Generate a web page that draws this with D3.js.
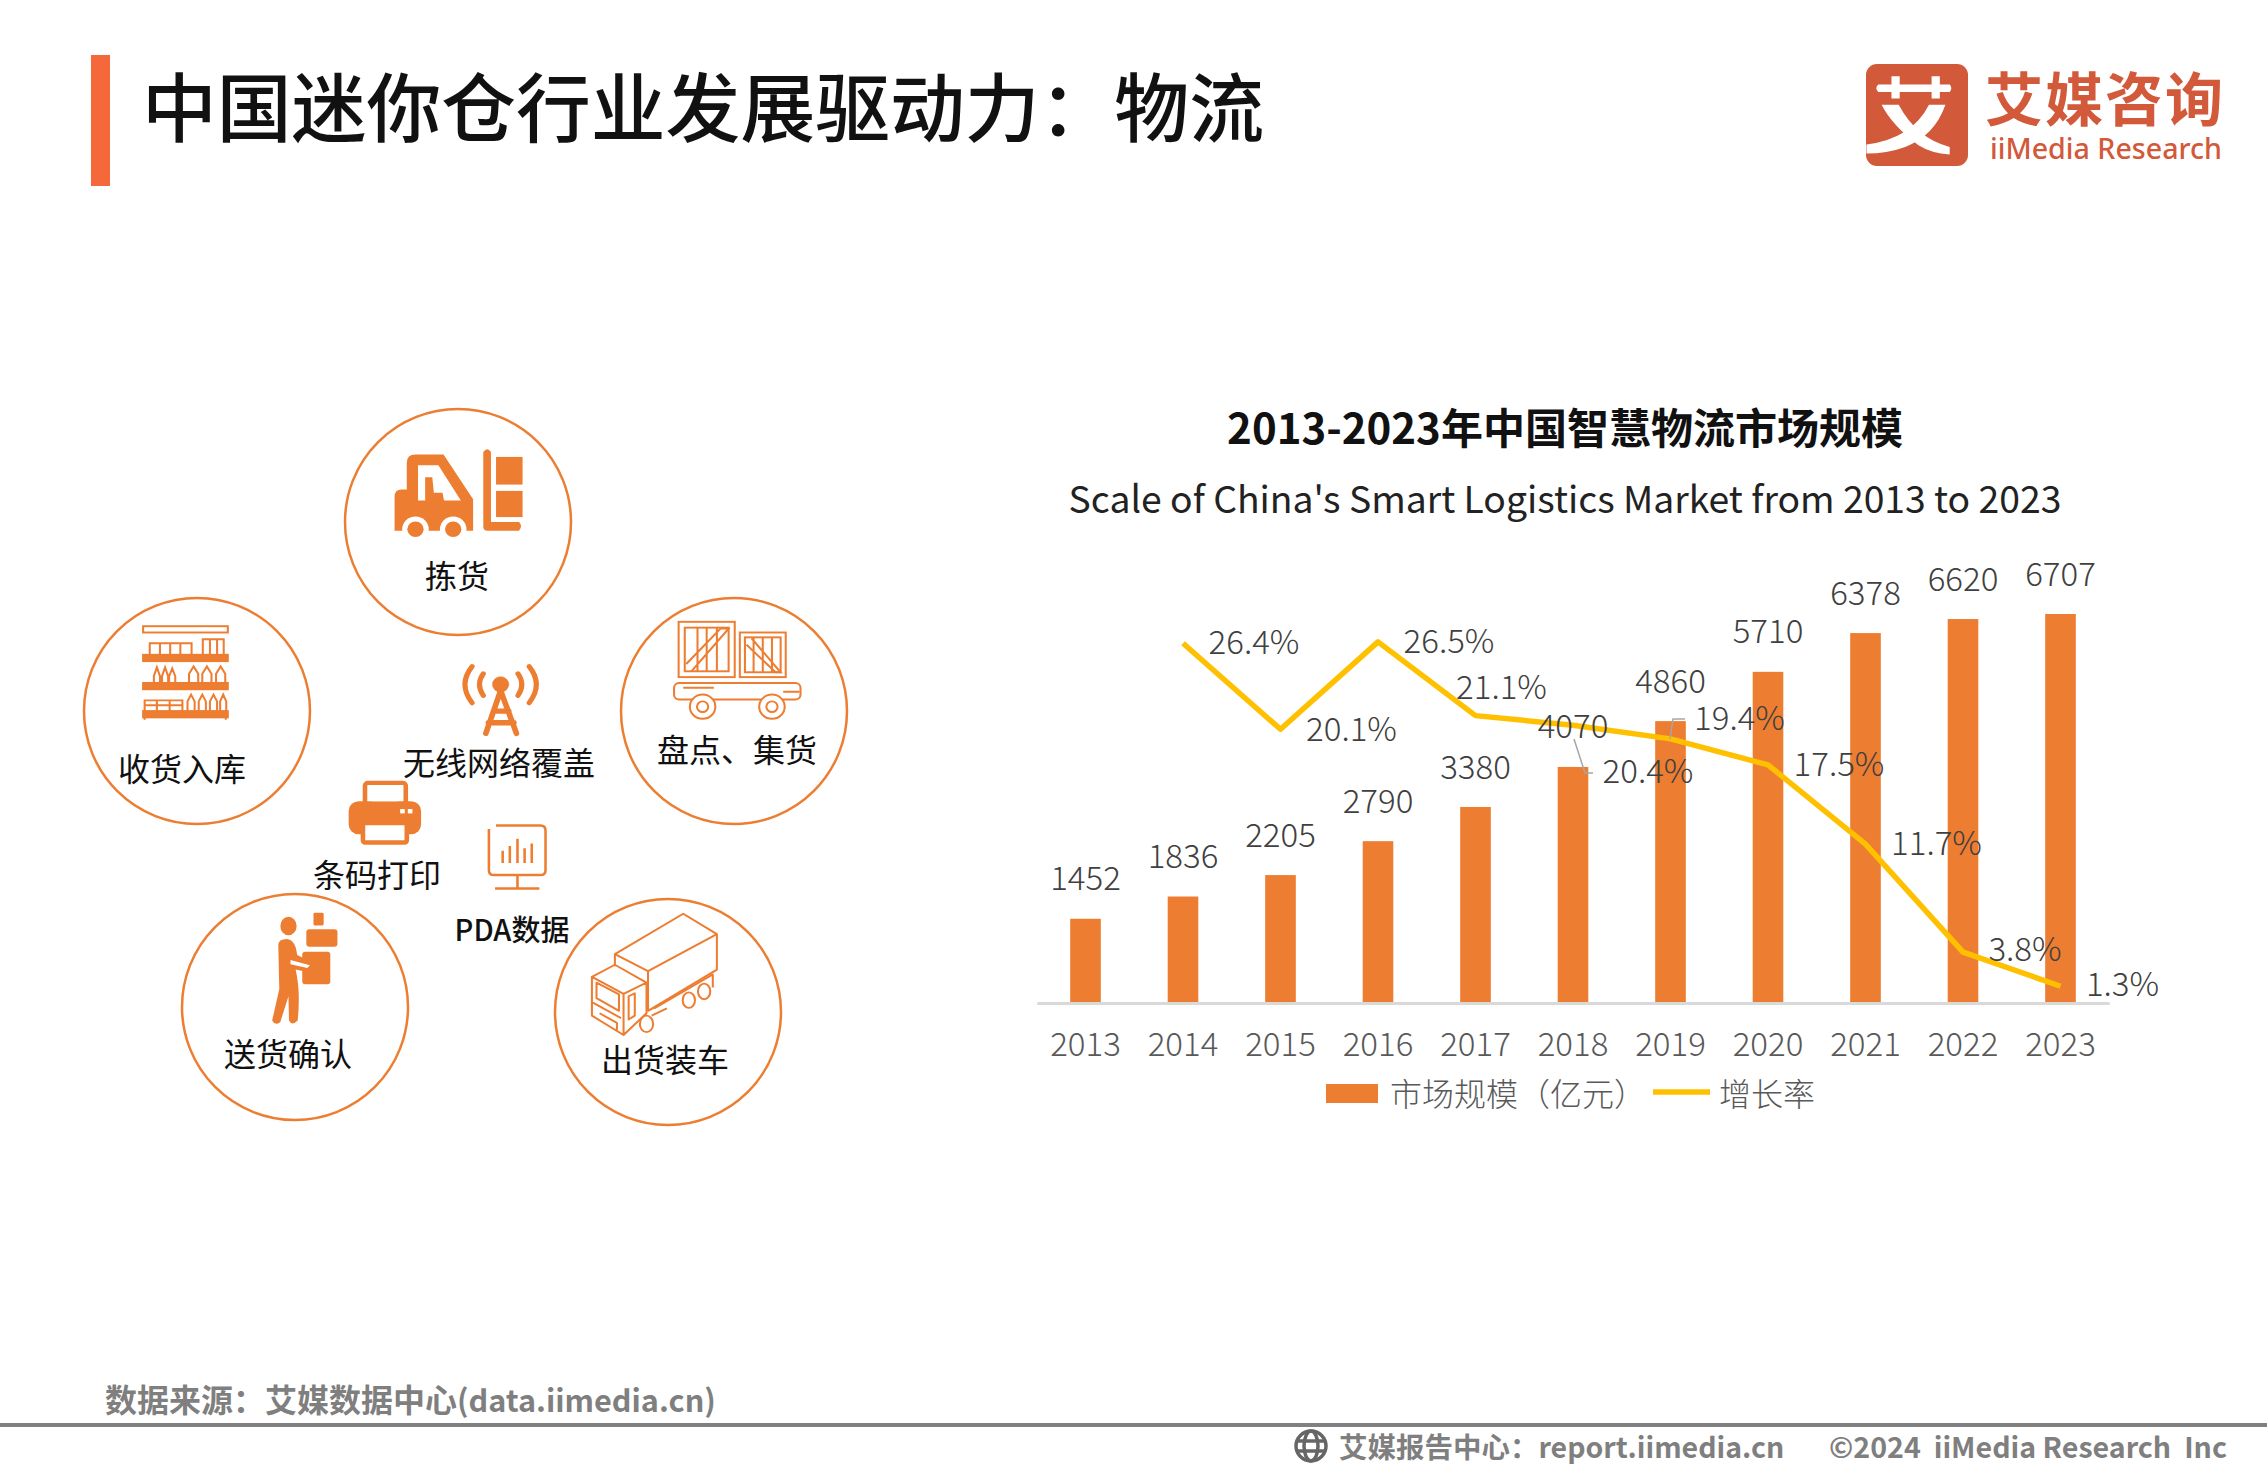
<!DOCTYPE html>
<html>
<head>
<meta charset="utf-8">
<script src="https://cdn.jsdelivr.net/npm/d3@7"></script>
<style>
  html, body { margin: 0; padding: 0; background: #fff; }
  svg { display: block; }
  text { font-family: "Noto Sans CJK SC", "Noto Sans", sans-serif; }
</style>
</head>
<body>
<div id="chart"></div>
<script>
// chart data
const years = ["2013","2014","2015","2016","2017","2018","2019","2020","2021","2022","2023"];
const marketSize = [1452,1836,2205,2790,3380,4070,4860,5710,6378,6620,6707];
const rateYears = ["2014","2015","2016","2017","2018","2019","2020","2021","2022","2023"];
const growthRate = [26.4,20.1,26.5,21.1,20.4,19.4,17.5,11.7,3.8,1.3];
// nudges for the growth labels, same order as growthRate
const rateLabelDx = [71,71,71,26,75,69,71,71,62,62];
const rateLabelDy = [-1,0,0,-28,46,-20,0,-1,-3,-2];

const stationLabels = [
  { name: "拣货", x: 457, y: 576 },
  { name: "收货入库", x: 182, y: 769 },
  { name: "盘点、集货", x: 737, y: 750 },
  { name: "送货确认", x: 288, y: 1054 },
  { name: "出货装车", x: 665, y: 1060 },
  { name: "无线网络覆盖", x: 499, y: 763 },
  { name: "条码打印", x: 377, y: 875 }
];
const stationCircles = [[458,522],[197,711],[734,711],[295,1007],[668,1012]];

const orange = "#ed7d31", yellow = "#ffc000", labelGrey = "#404040";

const svg = d3.select("#chart").append("svg").attr("width", 2267).attr("height", 1474);

// header
svg.append("rect").attr("x", 91).attr("y", 55).attr("width", 19).attr("height", 131).attr("fill", "#f4683a");
svg.append("text").attr("x", 142).attr("y", 136).attr("font-size", 74.8).attr("font-weight", 500).attr("fill", "#111")
  .text("中国迷你仓行业发展驱动力：物流");

// logo
const logoColor = "#d2593a";
svg.append("rect").attr("x", 1866).attr("y", 64).attr("width", 102).attr("height", 102).attr("rx", 11).attr("fill", logoColor);
const logo = svg.append("g").attr("transform", "translate(1800,40) scale(0.329)");
logo.append("path").attr("fill", "#fff")
  .attr("d", "M238,135H455Q465,146 455,158H238Q226,146 238,135Z M278,110H303V178H278Z M400,110H425V178H400Z");
logo.append("path").attr("fill", "#fff")
  .attr("d", "M248,197L300,197Q355,300 455,325V348Q400,345 360,320Q280,260 248,197Z");
logo.append("path").attr("fill", "#fff")
  .attr("d", "M392,197L442,197Q410,290 320,325Q265,345 202,345V318Q340,300 392,197Z");
svg.append("text").attr("x", 1985).attr("y", 121).attr("font-size", 58).attr("font-weight", 700).attr("fill", logoColor)
  .attr("letter-spacing", 2).text("艾媒咨询");
svg.append("text").attr("x", 1990).attr("y", 159).attr("font-size", 28.6).attr("font-weight", 500).attr("fill", logoColor)
  .style("font-family", '"Noto Sans"').text("iiMedia Research");

// chart titles
svg.append("text").attr("x", 1565).attr("y", 444).attr("text-anchor", "middle").attr("font-size", 42).attr("font-weight", 700)
  .attr("fill", "#111").text("2013-2023年中国智慧物流市场规模");
svg.append("text").attr("x", 1565).attr("y", 513).attr("text-anchor", "middle").attr("font-size", 37.3).attr("fill", "#222")
  .text("Scale of China's Smart Logistics Market from 2013 to 2023");

// scales
const x = d3.scaleBand().domain(years).range([1036.75, 2109.25]).paddingInner(0.686).paddingOuter(0.343);
const yBar = d3.scaleLinear().domain([0, 7000]).range([1003, 597]);
const yRate = d3.scaleLinear().domain([0, 30]).range([1004, 594]);
const cx = d => x(d) + x.bandwidth() / 2;

// bars
svg.append("g").selectAll("rect").data(years).join("rect")
  .attr("x", d => x(d))
  .attr("width", x.bandwidth())
  .attr("y", (d, i) => yBar(marketSize[i]))
  .attr("height", (d, i) => yBar(0) - yBar(marketSize[i]))
  .attr("fill", orange);

// axis
const axis = svg.append("g").attr("transform", "translate(0,1003)")
  .call(d3.axisBottom(x).tickSize(0).tickPadding(30));
axis.select(".domain").attr("stroke", "#d9d9d9").attr("stroke-width", 3);
axis.selectAll("text").attr("font-size", 33).attr("fill", "#595959")
  .style("font-family", '"Noto Sans CJK SC"').attr("font-weight", 300);

// growth line
const line = d3.line().x(d => cx(d.year)).y(d => yRate(d.rate));
const ratePoints = rateYears.map((year, i) => ({ year, rate: growthRate[i] }));
svg.append("path").datum(ratePoints).attr("d", line)
  .attr("fill", "none").attr("stroke", yellow).attr("stroke-width", 5.5).attr("stroke-linejoin", "round");

// leader lines for the two displaced labels
const leaders = d3.line();
svg.append("path").attr("d", leaders([[1574,739],[1585,773],[1593,773]])).attr("fill", "none").attr("stroke", "#a6a6a6").attr("stroke-width", 1.5);
svg.append("path").attr("d", leaders([[1670,739],[1673,719],[1685,719]])).attr("fill", "none").attr("stroke", "#a6a6a6").attr("stroke-width", 1.5);

// value labels
svg.append("g").selectAll("text").data(years).join("text")
  .attr("x", d => cx(d))
  .attr("y", (d, i) => yBar(marketSize[i]) - 40)
  .attr("dy", "0.35em")
  .attr("text-anchor", "middle").attr("font-size", 33).attr("font-weight", 300).attr("fill", labelGrey)
  .text((d, i) => marketSize[i]);

svg.append("g").selectAll("text").data(ratePoints).join("text")
  .attr("x", (d, i) => cx(d.year) + rateLabelDx[i])
  .attr("y", (d, i) => yRate(d.rate) + rateLabelDy[i])
  .attr("dy", "0.35em")
  .attr("text-anchor", "middle").attr("font-size", 33).attr("font-weight", 300).attr("fill", labelGrey)
  .text(d => d.rate.toFixed(1) + "%");

// legend
svg.append("rect").attr("x", 1326).attr("y", 1084).attr("width", 52).attr("height", 19).attr("fill", orange);
svg.append("text").attr("x", 1390).attr("y", 1106).attr("font-size", 32).attr("font-weight", 300).attr("fill", "#595959").text("市场规模（亿元）");
svg.append("line").attr("x1", 1653).attr("x2", 1710).attr("y1", 1092).attr("y2", 1092).attr("stroke", yellow).attr("stroke-width", 5.5);
svg.append("text").attr("x", 1719).attr("y", 1106).attr("font-size", 32).attr("font-weight", 300).attr("fill", "#595959").text("增长率");

// left diagram
svg.append("g").selectAll("circle").data(stationCircles).join("circle")
  .attr("cx", d => d[0]).attr("cy", d => d[1]).attr("r", 113)
  .attr("fill", "none").attr("stroke", orange).attr("stroke-width", 2.5);

const icons = svg.append("g").attr("transform", "translate(60,390) scale(0.51,0.485)");

// forklift
const fork = icons.append("g").attr("fill", orange);
fork.append("path").attr("d", "M680,205V150Q680,133 697,133H752L810,225V290H656V220Q656,205 670,205Z");
fork.append("path").attr("fill", "#fff").attr("d", "M702,155H742L786,228H753L750,212H733L730,180H716V228H702Z");
[697, 771].forEach(cxw => {
  fork.append("circle").attr("cx", cxw).attr("cy", 287).attr("r", 26).attr("fill", "#fff");
  fork.append("circle").attr("cx", cxw).attr("cy", 287).attr("r", 16);
});
fork.append("path").attr("d", "M830,128Q838,116 845,128V272H900Q908,280 900,290H838Q830,290 830,282Z");
fork.append("rect").attr("x", 855).attr("y", 138).attr("width", 52).attr("height", 57);
fork.append("rect").attr("x", 855).attr("y", 208).attr("width", 52).attr("height", 54);

// shelves
const shelves = icons.append("g").attr("fill", "none").attr("stroke", orange).attr("stroke-width", 4);
[487, 546, 604, 662].forEach(yy => shelves.append("rect").attr("x", 163).attr("y", yy).attr("width", 166).attr("height", 13).attr("fill", yy === 487 ? "none" : orange));
shelves.append("path").attr("d", "M176,546V522H258V546 M196,522V546 M216,522V546 M236,522V546 M280,546V514H321V546 M294,514V546 M308,514V546");
shelves.append("path").attr("d", "M184,604V590L190,572L196,590V604 M200,604V590L206,572L212,590V604 M214,604V590L220,574L226,590V604 M253,604V585L262,570L271,585V604 M279,604V585L288,570L297,585V604 M306,604V585L315,570L324,585V604");
shelves.append("path").attr("d", "M166,662V640H240V662 M166,650H240 M190,640V662 M215,640V662 M250,662V642L257,628L264,642V662 M272,662V642L279,628L286,642V662 M294,662V642L301,628L308,642V662 M314,662V642L320,628L326,642V662");
shelves.append("path").attr("d", "M166,675V680 M325,675V680");

// crates on a cart
const cart = icons.append("g").attr("fill", "none").attr("stroke", orange).attr("stroke-width", 4);
cart.append("rect").attr("x", 1213).attr("y", 478).attr("width", 110).attr("height", 114);
cart.append("rect").attr("x", 1225).attr("y", 490).attr("width", 86).attr("height", 90);
cart.append("path").attr("d", "M1250,490V580 M1268,490V580 M1288,490V580 M1228,565L1295,492H1311L1238,580");
cart.append("rect").attr("x", 1333).attr("y", 500).attr("width", 90).attr("height", 92);
cart.append("rect").attr("x", 1343).attr("y", 510).attr("width", 70).attr("height", 72);
cart.append("path").attr("d", "M1360,510V582 M1378,510V582 M1396,510V582 M1346,525L1403,582H1413L1356,512");
cart.append("rect").attr("x", 1204).attr("y", 604).attr("width", 248).attr("height", 34).attr("rx", 10);
cart.append("path").attr("d", "M1222,614H1282 M1418,622H1450");
[1260, 1396].forEach(cxw => {
  cart.append("circle").attr("cx", cxw).attr("cy", 653).attr("r", 25).attr("fill", "#fff");
  cart.append("circle").attr("cx", cxw).attr("cy", 653).attr("r", 11);
});

// wireless tower
const tower = icons.append("g").attr("fill", "none").attr("stroke", orange).attr("stroke-linecap", "round");
tower.append("circle").attr("cx", 864).attr("cy", 607).attr("r", 16).attr("fill", orange);
tower.append("path").attr("stroke-width", 11).attr("d", "M864,620L835,708 M864,620L895,708 M850,662H880 M840,686H890");
tower.append("path").attr("stroke-width", 10).attr("d", "M830,585Q815,607 830,630 M898,585Q913,607 898,630");
tower.append("path").attr("stroke-width", 10).attr("d", "M808,570Q780,607 808,645 M920,570Q948,607 920,645");

// printer
const printer = icons.append("g");
printer.append("rect").attr("x", 598).attr("y", 810).attr("width", 80).attr("height", 50).attr("rx", 6).attr("fill", "#fff").attr("stroke", orange).attr("stroke-width", 9);
printer.append("rect").attr("x", 566).attr("y", 848).attr("width", 142).attr("height", 68).attr("rx", 20).attr("fill", orange);
printer.append("rect").attr("x", 594).attr("y", 893).attr("width", 86).attr("height", 40).attr("rx", 4).attr("fill", "#fff").attr("stroke", orange).attr("stroke-width", 9);
printer.append("rect").attr("x", 612).attr("y", 828).attr("width", 50).attr("height", 20).attr("fill", "#fff");
printer.append("rect").attr("x", 667).attr("y", 864).attr("width", 9).attr("height", 9).attr("fill", "#fff");
printer.append("rect").attr("x", 682).attr("y", 864).attr("width", 9).attr("height", 9).attr("fill", "#fff");

// PDA screen
icons.append("path").attr("fill", "none").attr("stroke", orange).attr("stroke-width", 5)
  .attr("d", "M841,905V990Q841,1000 851,1000H942Q952,1000 952,990V908Q952,898 942,898H855 M897,1000V1028 M853,1028H940 M868,975V950 M882,975V940 M897,975V925 M911,975V945 M925,975V935");

// person carrying boxes
const person = icons.append("g").attr("fill", orange);
person.append("ellipse").attr("cx", 448).attr("cy", 1105).attr("rx", 16).attr("ry", 19);
person.append("rect").attr("x", 497).attr("y", 1078).attr("width", 20).attr("height", 26).attr("rx", 3);
person.append("rect").attr("x", 483).attr("y", 1112).attr("width", 61).attr("height", 36).attr("rx", 6);
person.append("rect").attr("x", 475).attr("y", 1158).attr("width", 55).attr("height", 67).attr("rx", 6);
person.append("path").attr("d", "M428,1145Q428,1132 445,1132Q462,1134 465,1165L495,1180Q500,1198 485,1200L462,1195Q472,1240 466,1300Q455,1312 449,1300L448,1250L432,1303Q422,1312 416,1300L430,1235Z");
person.append("path").attr("fill", "#fff").attr("d", "M452,1175L490,1186L485,1192L452,1184Z");

// truck
const truck = icons.append("g").attr("fill", "none").attr("stroke", orange).attr("stroke-width", 4).attr("stroke-linejoin", "round");
truck.append("path").attr("d", "M1088,1163L1222,1080L1288,1122L1153,1198Z M1153,1198V1280L1288,1195V1122 M1088,1163V1188 M1153,1280L1185,1262");
truck.append("path").attr("d", "M1043,1210L1088,1185L1150,1222V1285L1105,1330L1043,1290Z M1043,1210L1105,1245V1330 M1105,1245L1150,1222 M1052,1222L1096,1246V1280L1052,1254Z M1115,1250L1127,1244V1290L1115,1298Z M1058,1285L1092,1305V1320 M1043,1262L1100,1295");
truck.append("path").attr("d", "M1165,1275L1280,1205V1232 M1160,1290L1190,1275");
truck.append("ellipse").attr("cx", 1150).attr("cy", 1307).attr("rx", 13).attr("ry", 17).attr("fill", "#fff");
truck.append("ellipse").attr("cx", 1233).attr("cy", 1258).attr("rx", 12).attr("ry", 16).attr("fill", "#fff");
truck.append("ellipse").attr("cx", 1263).attr("cy", 1240).attr("rx", 12).attr("ry", 16).attr("fill", "#fff");

svg.append("g").selectAll("text").data(stationLabels).join("text")
  .attr("x", d => d.x).attr("y", d => d.y).attr("dy", "0.36em")
  .attr("text-anchor", "middle").attr("font-size", 32).attr("fill", "#111")
  .text(d => d.name);
svg.append("text").attr("x", 512).attr("y", 931).attr("dy", "0.36em")
  .attr("text-anchor", "middle").attr("font-size", 29).attr("font-weight", 500).attr("fill", "#111")
  .text("PDA数据");

// footer
const source = svg.append("text").attr("x", 105).attr("y", 1412).attr("font-size", 32).attr("font-weight", 700).attr("fill", "#7f7f7f");
source.append("tspan").text("数据来源：艾媒数据中心");
source.append("tspan").attr("font-size", 30.6).text("(data.iimedia.cn)");
svg.append("rect").attr("x", 0).attr("y", 1423).attr("width", 2267).attr("height", 4).attr("fill", "#808080");
const globe = svg.append("g").attr("transform", "translate(1311,1446)").attr("fill", "none").attr("stroke", "#666").attr("stroke-width", 3.5);
globe.append("circle").attr("r", 15);
globe.append("ellipse").attr("rx", 7).attr("ry", 15);
globe.append("path").attr("d", "M-15,-5H15 M-15,5H15");
svg.append("text").attr("x", 1339).attr("y", 1458).attr("font-size", 28.5).attr("font-weight", 700).attr("fill", "#7f7f7f")
  .text("艾媒报告中心：report.iimedia.cn");
svg.append("text").attr("x", 1829).attr("y", 1458).attr("font-size", 28.6).attr("font-weight", 700).attr("fill", "#7f7f7f")
  .style("white-space", "pre").text("©2024  iiMedia Research  Inc");
</script>
</body>
</html>
